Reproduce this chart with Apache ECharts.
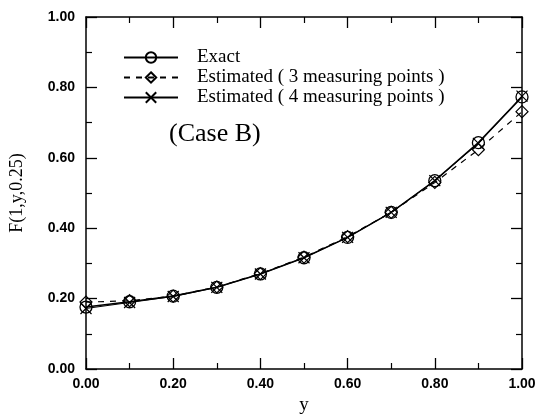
<!DOCTYPE html>
<html><head><meta charset="utf-8">
<script src="https://cdn.jsdelivr.net/npm/echarts@6/dist/echarts.min.js"></script>
<style>html,body{margin:0;padding:0;background:#fff}#c{width:539px;height:416px}</style>
</head><body><div id="c"></div>
<script>
const yValues = [0.0, 0.1, 0.2, 0.3, 0.4, 0.5, 0.6, 0.7, 0.8, 0.9, 1.0];
const exact = [0.176, 0.191, 0.207, 0.232, 0.270, 0.316, 0.374, 0.445, 0.535, 0.643, 0.773];
const est3 = [0.190, 0.194, 0.207, 0.233, 0.271, 0.318, 0.376, 0.445, 0.530, 0.623, 0.731];
const est4 = [0.172, 0.189, 0.206, 0.232, 0.270, 0.316, 0.374, 0.445, 0.535, 0.641, 0.775];
const seriesNames = ['Exact', 'Estimated ( 3 measuring points )', 'Estimated ( 4 measuring points )'];
const tickLabels = ['0.00', '0.20', '0.40', '0.60', '0.80', '1.00'];

const pair = (arr) => yValues.map((x, i) => [x, arr[i]]);
const chart = echarts.init(document.getElementById('c'));
const labelFont = {fontFamily: 'Liberation Sans, Arial', fontWeight: 'bold', fontSize: 14, color: '#000'};
const fmt = v => v.toFixed(2);
const baseAxis = {
  min: 0, max: 1, interval: 0.2,
  axisLine: {show: true, onZero: false, lineStyle: {color: '#000', width: 1.5}},
  axisTick: {show: true, inside: true, length: 11, lineStyle: {color: '#000', width: 1.3}},
  minorTick: {show: true, splitNumber: 2, length: 6, lineStyle: {color: '#000', width: 1.2}},
  splitLine: {show: false}
};
chart.setOption({
  animation: false,
  grid: {left: 86, right: 17, top: 17, bottom: 47, containLabel: false, outerBoundsMode: 'none'},
  legend: {
    left: 118, top: 43, orient: 'vertical', itemWidth: 54, itemHeight: 13, itemGap: 1,
    textStyle: {fontFamily: 'Liberation Serif, Times New Roman', fontSize: 19, lineHeight: 18, color: '#000', padding: [0, 0, 0, 14]},
    data: seriesNames
  },
  xAxis: [
    Object.assign({}, baseAxis, {type: 'value', position: 'bottom',
      name: 'y', nameLocation: 'middle', nameGap: 26,
      nameTextStyle: {fontFamily: 'Liberation Serif, Times New Roman', fontSize: 19, color: '#000'},
      axisLabel: Object.assign({formatter: fmt, margin: 8}, labelFont)}),
    Object.assign({}, baseAxis, {type: 'value', position: 'top', axisLabel: {show: false}})
  ],
  yAxis: [
    Object.assign({}, baseAxis, {type: 'value', position: 'left',
      name: 'F(1,y,0.25)', nameLocation: 'middle', nameGap: 60, nameRotate: 90,
      nameTextStyle: {fontFamily: 'Liberation Serif, Times New Roman', fontSize: 18, color: '#000'},
      axisLabel: Object.assign({formatter: fmt, margin: 11}, labelFont)}),
    Object.assign({}, baseAxis, {type: 'value', position: 'right', axisLabel: {show: false}})
  ],
  graphic: [{
    type: 'text', left: 169, top: 121,
    style: {text: '(Case B)', font: '26px "Liberation Serif", "Times New Roman"', fill: '#000'}
  }],
  series: [
    {name: seriesNames[0], type: 'line', data: pair(exact), symbol: 'circle', symbolSize: 12,
      lineStyle: {color: '#000', width: 1.6}, itemStyle: {color: 'rgba(255,255,255,0)', borderColor: '#000', borderWidth: 1.3}, z: 3},
    {name: seriesNames[1], type: 'line', data: pair(est3), symbol: 'diamond', symbolSize: [12, 12],
      lineStyle: {color: '#000', width: 1.2, type: [6, 6]}, itemStyle: {color: 'rgba(255,255,255,0)', borderColor: '#000', borderWidth: 1.2}, z: 2},
    {name: seriesNames[2], type: 'line', data: pair(est4), symbol: 'path://M0,0L10,10M10,0L0,10', symbolSize: 11,
      lineStyle: {color: '#000', width: 1.0}, itemStyle: {color: 'rgba(255,255,255,0)', borderColor: '#000', borderWidth: 1.2}, z: 2}
  ]
});
</script></body></html>
